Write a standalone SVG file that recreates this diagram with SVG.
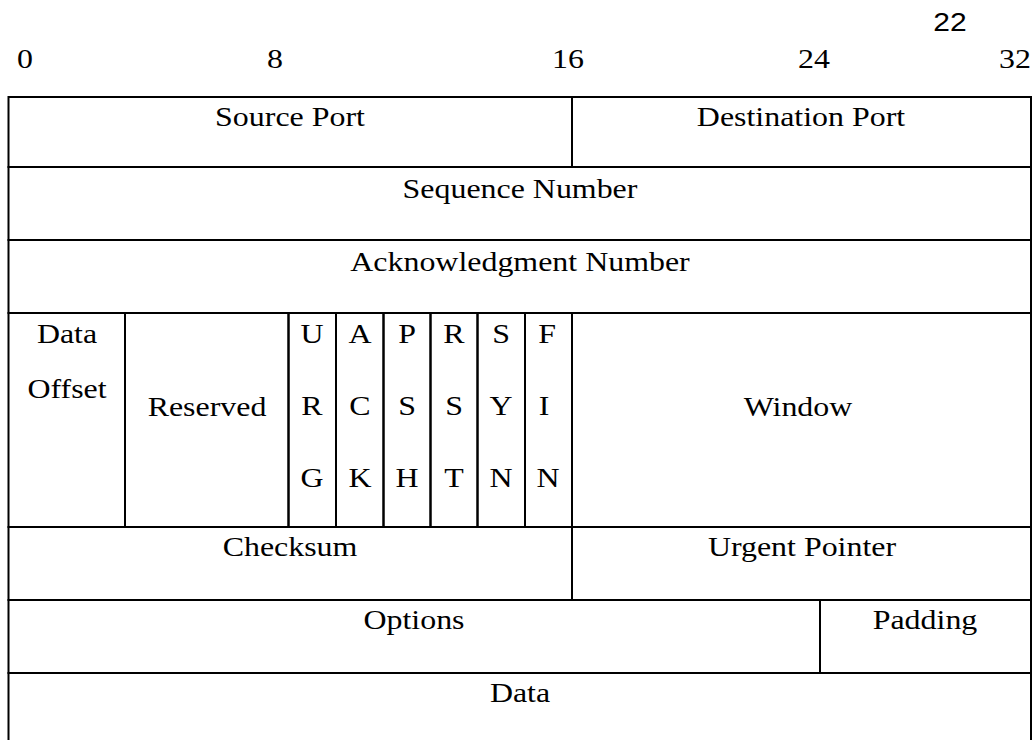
<svg xmlns="http://www.w3.org/2000/svg" width="1034" height="740" viewBox="0 0 1034 740">
<style>
.bg{fill:#fff}
.f{fill:none;stroke:#000;stroke-width:2}
.t{font-family:"Liberation Serif","Times New Roman",serif;font-size:28px;fill:#000;text-anchor:middle}
.s{font-family:"Liberation Sans",Arial,sans-serif;font-size:25px;fill:#000;text-anchor:middle}
</style>
<rect class="bg" x="0" y="0" width="1034" height="740"/>
<g id="bit-scale">
<text class="t" transform="translate(25,68) scale(1.14 1)">0</text>
<text class="t" transform="translate(275,68) scale(1.14 1)">8</text>
<text class="t" transform="translate(568,68) scale(1.14 1)">16</text>
<text class="t" transform="translate(814,68) scale(1.14 1)">24</text>
<text class="t" transform="translate(1015,68) scale(1.14 1)">32</text>
<text class="s" transform="translate(950,31) scale(1.2 1)">22</text>
</g>
<g id="source-port"><rect class="f" x="8.5" y="97" width="563.5" height="70"/><text class="t" transform="translate(290,126) scale(1.14 1)">Source Port</text></g>
<g id="destination-port"><rect class="f" x="572" y="97" width="459" height="70"/><text class="t" transform="translate(801,126) scale(1.14 1)">Destination Port</text></g>
<g id="sequence-number"><rect class="f" x="8.5" y="167" width="1022.5" height="73"/><text class="t" transform="translate(520,198) scale(1.14 1)">Sequence Number</text></g>
<g id="ack-number"><rect class="f" x="8.5" y="240" width="1022.5" height="73"/><text class="t" transform="translate(520,271) scale(1.14 1)">Acknowledgment Number</text></g>
<g id="data-offset"><rect class="f" x="8.5" y="313" width="116.5" height="214"/><text class="t" transform="translate(67,343) scale(1.14 1)">Data</text><text class="t" transform="translate(67,398) scale(1.14 1)">Offset</text></g>
<g id="reserved"><rect class="f" x="125" y="313" width="163.5" height="214"/><text class="t" transform="translate(207,416) scale(1.14 1)">Reserved</text></g>
<g id="flag-urg"><rect class="f" x="288.5" y="313" width="47.5" height="214"/><text class="t" transform="translate(312,343) scale(1.14 1)">U</text><text class="t" transform="translate(312,415) scale(1.14 1)">R</text><text class="t" transform="translate(312,487) scale(1.14 1)">G</text></g>
<g id="flag-ack"><rect class="f" x="336" y="313" width="47.5" height="214"/><text class="t" transform="translate(360,343) scale(1.14 1)">A</text><text class="t" transform="translate(360,415) scale(1.14 1)">C</text><text class="t" transform="translate(360,487) scale(1.14 1)">K</text></g>
<g id="flag-psh"><rect class="f" x="383.5" y="313" width="47" height="214"/><text class="t" transform="translate(407,343) scale(1.14 1)">P</text><text class="t" transform="translate(407,415) scale(1.14 1)">S</text><text class="t" transform="translate(407,487) scale(1.14 1)">H</text></g>
<g id="flag-rst"><rect class="f" x="430.5" y="313" width="47" height="214"/><text class="t" transform="translate(454,343) scale(1.14 1)">R</text><text class="t" transform="translate(454,415) scale(1.14 1)">S</text><text class="t" transform="translate(454,487) scale(1.14 1)">T</text></g>
<g id="flag-syn"><rect class="f" x="477.5" y="313" width="47.5" height="214"/><text class="t" transform="translate(501,343) scale(1.14 1)">S</text><text class="t" transform="translate(501,415) scale(1.14 1)">Y</text><text class="t" transform="translate(501,487) scale(1.14 1)">N</text></g>
<g id="flag-fin"><rect class="f" x="525" y="313" width="47" height="214"/><text class="t" transform="translate(547,343) scale(1.14 1)">F</text><text class="t" transform="translate(544,415) scale(1.14 1)">I</text><text class="t" transform="translate(548,487) scale(1.14 1)">N</text></g>
<g id="window"><rect class="f" x="572" y="313" width="459" height="214"/><text class="t" transform="translate(798,416) scale(1.14 1)">Window</text></g>
<g id="checksum"><rect class="f" x="8.5" y="527" width="563.5" height="73"/><text class="t" transform="translate(290,556) scale(1.14 1)">Checksum</text></g>
<g id="urgent-pointer"><rect class="f" x="572" y="527" width="459" height="73"/><text class="t" transform="translate(802,556) scale(1.14 1)">Urgent Pointer</text></g>
<g id="options"><rect class="f" x="8.5" y="600" width="811.5" height="73"/><text class="t" transform="translate(414,629) scale(1.14 1)">Options</text></g>
<g id="padding"><rect class="f" x="820" y="600" width="211" height="73"/><text class="t" transform="translate(925,629) scale(1.14 1)">Padding</text></g>
<g id="data"><rect class="f" x="8.5" y="673" width="1022.5" height="90"/><text class="t" transform="translate(520,702) scale(1.14 1)">Data</text></g>
<g id="connectors"/>
</svg>
